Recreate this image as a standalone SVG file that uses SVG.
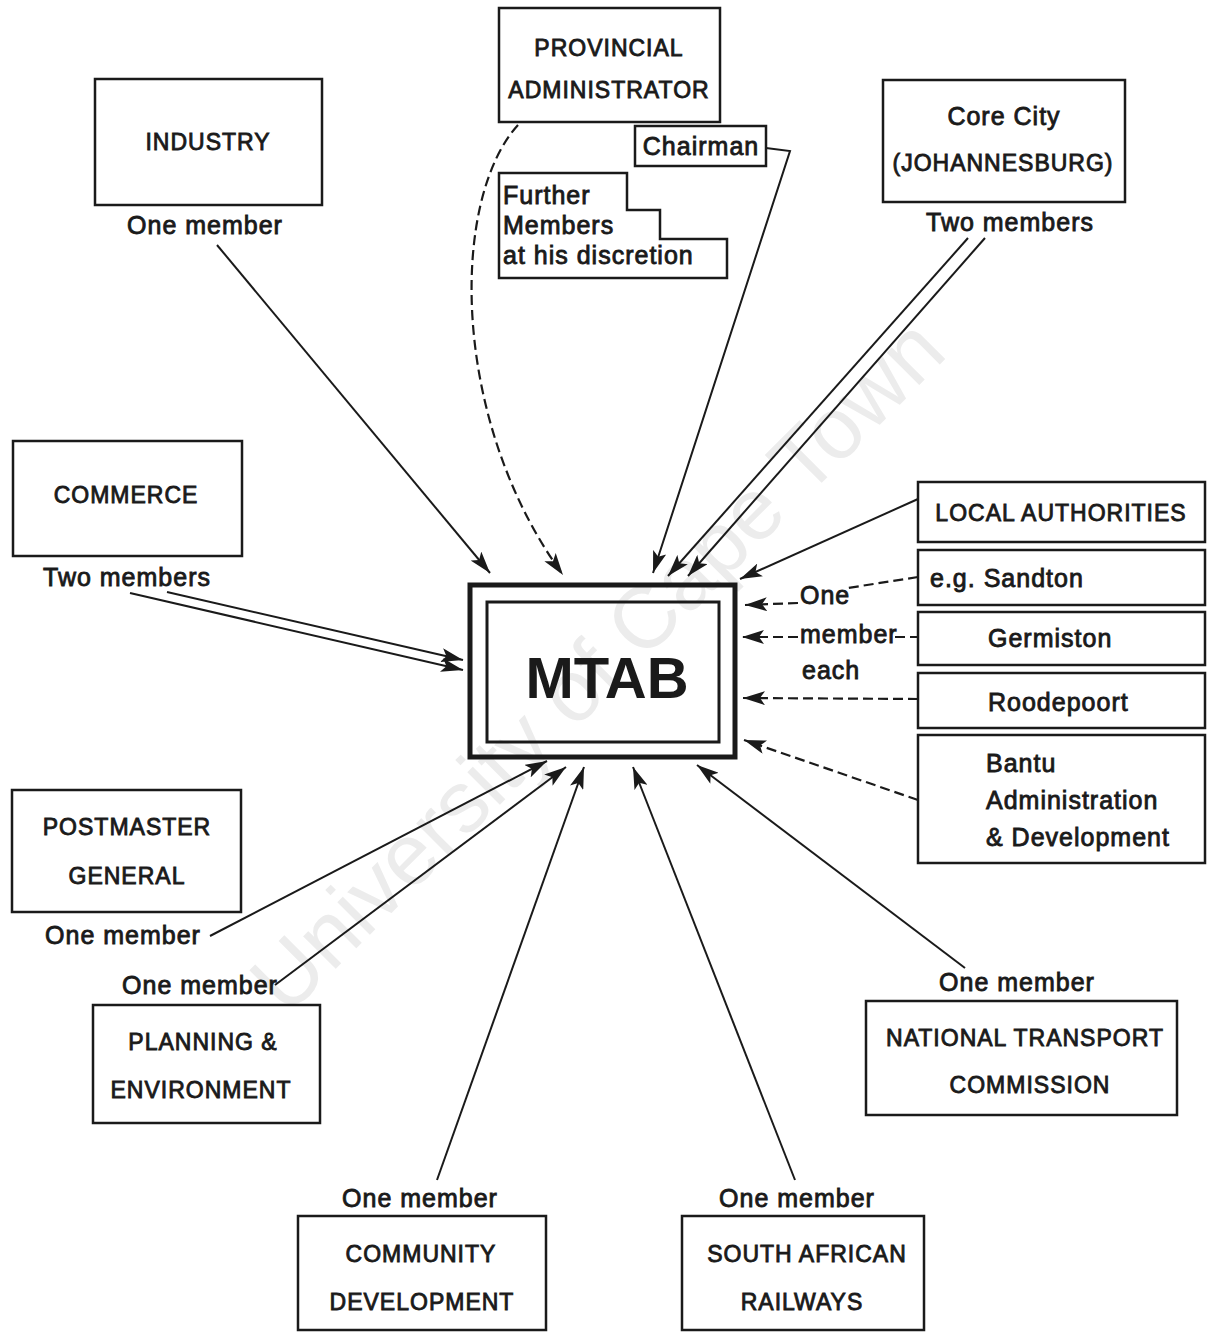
<svg xmlns="http://www.w3.org/2000/svg" width="1209" height="1332" viewBox="0 0 1209 1332">
<defs>
<marker id="ah" markerUnits="userSpaceOnUse" markerWidth="24" markerHeight="14" refX="22" refY="7" orient="auto">
<path d="M0,0 L22,7 L0,14 L5,7 z" fill="#1a1a1a"/>
</marker>
<style>
.box{fill:none;stroke:#1a1a1a;stroke-width:2.5}
.t{font-family:"Liberation Sans",Arial,sans-serif;fill:#1a1a1a;stroke:#1a1a1a;stroke-width:0.85;letter-spacing:1px}
.c{font-size:23px;text-anchor:middle}
.m{font-size:25px}
.mc{font-size:25px;text-anchor:middle}
.ln{fill:none;stroke:#1a1a1a;stroke-width:2;marker-end:url(#ah)}
.dl{fill:none;stroke:#1a1a1a;stroke-width:2.2;stroke-dasharray:10,5}
.da{fill:none;stroke:#1a1a1a;stroke-width:2.2;stroke-dasharray:10,5;marker-end:url(#ah)}
.wm{font-family:"Liberation Sans",Arial,sans-serif;font-size:87px;fill:#ececec;text-anchor:middle}
</style>
</defs>
<rect width="1209" height="1332" fill="#ffffff"/>
<text class="wm" x="597" y="695" transform="rotate(-45 597 665)">University of Cape Town</text>

<g id="connectors">
<line class="ln" x1="217" y1="245" x2="490" y2="573"/>
<path class="da" d="M518,125 C450,200 450,420 563,575"/>
<path class="ln" d="M766,148 L790,151 L653,573"/>
<line class="ln" x1="968" y1="238" x2="668" y2="576"/>
<line class="ln" x1="985" y1="238" x2="688" y2="576"/>
<line class="ln" x1="167" y1="592" x2="463" y2="660"/>
<line class="ln" x1="130" y1="593" x2="463" y2="670"/>
<line class="ln" x1="918" y1="499" x2="740" y2="579"/>
<line class="dl" x1="918" y1="577" x2="848" y2="588"/>
<line class="da" x1="798" y1="603" x2="745" y2="605"/>
<line class="da" x1="798" y1="637" x2="742" y2="637"/>
<line class="dl" x1="895" y1="637" x2="918" y2="637"/>
<line class="da" x1="918" y1="699" x2="743" y2="698"/>
<line class="da" x1="918" y1="800" x2="744" y2="740"/>
<line class="ln" x1="210" y1="936" x2="547" y2="761"/>
<line class="ln" x1="275" y1="985" x2="566" y2="767"/>
<line class="ln" x1="437" y1="1180" x2="584" y2="767"/>
<line class="ln" x1="795" y1="1180" x2="633" y2="767"/>
<line class="ln" x1="965" y1="968" x2="697" y2="765"/>
<text class="t m" x="800" y="604">One</text>
<text class="t m" x="800" y="643">member</text>
<text class="t m" x="802" y="679">each</text>
</g>

<g id="provincial">
<rect class="box" x="499" y="8" width="221" height="114"/>
<text class="t c" x="609" y="56">PROVINCIAL</text>
<text class="t c" x="609" y="98">ADMINISTRATOR</text>
</g>
<g id="chairman">
<rect class="box" x="635" y="126" width="131" height="40"/>
<text class="t mc" x="701" y="155">Chairman</text>
</g>
<g id="further">
<path class="box" d="M499,173 L627,173 L627,210 L660,210 L660,239 L727,239 L727,278 L499,278 Z"/>
<text class="t m" x="503" y="204">Further</text>
<text class="t m" x="503" y="234">Members</text>
<text class="t m" x="503" y="264">at his discretion</text>
</g>
<g id="industry">
<rect class="box" x="95" y="79" width="227" height="126"/>
<text class="t c" x="208" y="150">INDUSTRY</text>
<text class="t mc" x="205" y="234">One member</text>
</g>
<g id="corecity">
<rect class="box" x="883" y="80" width="242" height="122"/>
<text class="t mc" x="1004" y="125">Core City</text>
<text class="t c" x="1003" y="171">(JOHANNESBURG)</text>
<text class="t mc" x="1010" y="231">Two members</text>
</g>
<g id="commerce">
<rect class="box" x="13" y="441" width="229" height="115"/>
<text class="t c" x="126" y="503">COMMERCE</text>
<text class="t mc" x="127" y="586">Two members</text>
</g>
<g id="mtab">
<rect x="470" y="585" width="265" height="172" fill="none" stroke="#1a1a1a" stroke-width="5"/>
<rect x="487" y="602" width="232" height="140" fill="none" stroke="#1a1a1a" stroke-width="3"/>
<text x="607" y="698" font-family="Liberation Sans,Arial,sans-serif" font-size="58" font-weight="bold" text-anchor="middle" fill="#1a1a1a">MTAB</text>
</g>
<g id="localauthorities">
<rect class="box" x="918" y="482" width="287" height="60"/>
<text class="t c" x="1061" y="521">LOCAL AUTHORITIES</text>
</g>
<g id="sandton">
<rect class="box" x="918" y="550" width="287" height="55"/>
<text class="t m" x="930" y="587">e.g.  Sandton</text>
</g>
<g id="germiston">
<rect class="box" x="918" y="612" width="287" height="53"/>
<text class="t m" x="988" y="647">Germiston</text>
</g>
<g id="roodepoort">
<rect class="box" x="918" y="673" width="287" height="55"/>
<text class="t m" x="988" y="711">Roodepoort</text>
</g>
<g id="bantu">
<rect class="box" x="918" y="735" width="287" height="128"/>
<text class="t m" x="986" y="772">Bantu</text>
<text class="t m" x="986" y="809">Administration</text>
<text class="t m" x="986" y="846">&amp; Development</text>
</g>
<g id="postmaster">
<rect class="box" x="12" y="790" width="229" height="122"/>
<text class="t c" x="127" y="835">POSTMASTER</text>
<text class="t c" x="127" y="884">GENERAL</text>
<text class="t mc" x="123" y="944">One member</text>
</g>
<g id="planning">
<text class="t mc" x="200" y="994">One member</text>
<rect class="box" x="93" y="1005" width="227" height="118"/>
<text class="t c" x="203" y="1050">PLANNING &amp;</text>
<text class="t c" x="201" y="1098">ENVIRONMENT</text>
</g>
<g id="community">
<text class="t mc" x="420" y="1207">One member</text>
<rect class="box" x="298" y="1216" width="248" height="114"/>
<text class="t c" x="421" y="1262">COMMUNITY</text>
<text class="t c" x="422" y="1310">DEVELOPMENT</text>
</g>
<g id="railways">
<text class="t mc" x="797" y="1207">One member</text>
<rect class="box" x="682" y="1216" width="242" height="114"/>
<text class="t c" x="807" y="1262">SOUTH AFRICAN</text>
<text class="t c" x="802" y="1310">RAILWAYS</text>
</g>
<g id="ntc">
<text class="t mc" x="1017" y="991">One member</text>
<rect class="box" x="866" y="1001" width="311" height="114"/>
<text class="t c" x="1025" y="1046">NATIONAL TRANSPORT</text>
<text class="t c" x="1030" y="1093">COMMISSION</text>
</g>
</svg>
